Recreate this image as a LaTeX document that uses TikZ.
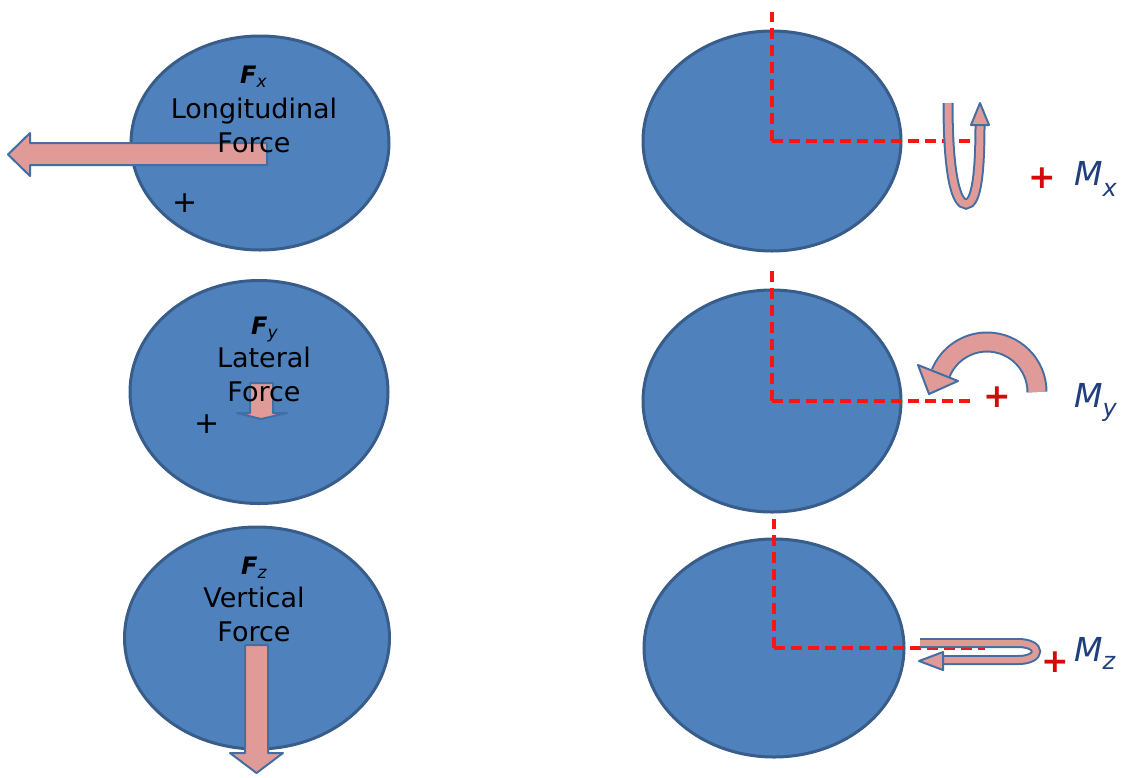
\documentclass[tikz,border=0pt]{standalone}
\usepackage{fontspec}
\setmainfont{DejaVu Sans}[ItalicFont={DejaVu Sans Oblique},BoldFont={DejaVu Sans Bold},BoldItalicFont={DejaVu Sans Bold Oblique}]
\usetikzlibrary{shapes.geometric,positioning}

\definecolor{wheelblue}{RGB}{79,129,189}
\definecolor{wheeledge}{RGB}{56,93,138}
\definecolor{forcepink}{RGB}{224,155,153}
\definecolor{axisred}{RGB}{250,20,20}
\definecolor{plusred}{RGB}{210,10,10}
\definecolor{momentblue}{RGB}{31,63,125}

\tikzset{
  wheel/.style={ellipse, draw=wheeledge, fill=wheelblue, line width=3pt, inner sep=0pt},
  axis/.style={draw=axisred, line width=3.2pt, dash pattern=on 11pt off 6pt},
  block/.style={fill=forcepink, draw=wheelblue!85!black, line width=2pt, line join=round},
  ribbon/.style={draw=wheelblue!85!black, line width=2pt, double=forcepink, double distance=#1},
  forcetext/.style={align=center, inner sep=0pt, font=\fontsize{27}{34}\selectfont},
  forcename/.style={anchor=base west, inner sep=0pt, font=\fontsize{24}{24}\selectfont\bfseries\itshape},
  momentname/.style={anchor=base west, inner sep=0pt, text=momentblue, font=\fontsize{33}{33}\selectfont\itshape},
  blackplus/.style={inner sep=0pt, font=\fontsize{30}{30}\selectfont},
  redplus/.style={inner sep=0pt, text=plusred, font=\fontsize{33}{33}\selectfont\bfseries}
}

\begin{document}
\begin{tikzpicture}[x=1pt,y=-1pt]
    \useasboundingbox (0,0) rectangle (1126,777);

    % Forces on the left
    \node[wheel, minimum width=258pt, minimum height=214pt] (fxwheel) at (260,143) {};
    \node[wheel, minimum width=258pt, minimum height=223pt] (fywheel) at (259,392) {};
    \node[wheel, minimum width=265pt, minimum height=222pt] (fzwheel) at (257,638) {};

    \filldraw[block] (267,143) -- (267,165) -- (30,165) -- (30,176) -- (8,154.5) -- (30,133) -- (30,143) -- cycle;
    \filldraw[block] (250,383) -- (273,383) -- (273,413) -- (287,413) -- (261,419) -- (237,413) -- (250,413) -- cycle;
    \filldraw[block] (245,645) -- (268,645) -- (268,753) -- (283,753) -- (256.5,773) -- (230,753) -- (245,753) -- cycle;

    \node[forcetext] (fxtext) at (254,125) {Longitudinal\\Force};
    \node[forcetext] (fytext) at (264,374) {Lateral\\Force};
    \node[forcetext] (fztext) at (254,614) {Vertical\\Force};
    \node[forcename] (fxname) at (240,83) {F\raisebox{-4pt}{\fontsize{17}{17}\selectfont\mdseries x}};
    \node[forcename] (fyname) at (251,334) {F\raisebox{-4pt}{\fontsize{17}{17}\selectfont\mdseries y}};
    \node[forcename] (fzname) at (241,574) {F\raisebox{-4pt}{\fontsize{17}{17}\selectfont\mdseries z}};
    \node[blackplus] (fxplus) at (185,203) {+};
    \node[blackplus] (fyplus) at (207,424) {+};

    % Moments on the right
    \node[wheel, minimum width=258pt, minimum height=220pt] (mxwheel) at (772,141) {};
    \node[wheel, minimum width=258pt, minimum height=222pt] (mywheel) at (772,401) {};
    \node[wheel, minimum width=260pt, minimum height=218pt] (mzwheel) at (774,648) {};

    \coordinate (mxtop) at (772,12);
    \coordinate (mxend) at (970,141);
    \coordinate (mytop) at (772,271);
    \coordinate (myend) at (975,401);
    \coordinate (mztop) at (774,519);
    \coordinate (mzend) at (985,648);
    \draw[axis] (mxwheel.center) -- (mxtop);
    \draw[axis] (mxwheel.center) -- (mxend);
    \draw[axis] (mywheel.center) -- (mytop);
    \draw[axis] (mywheel.center) -- (myend);
    \draw[axis] (mzwheel.center) -- (mztop);
    \draw[axis] (mzwheel.center) -- (mzend);

    \draw[ribbon=7pt] (948,103) .. controls (948,175) and (956,204) .. (966,204)
        .. controls (977,204) and (980,170) .. (980,124);
    \filldraw[block] (971,125) -- (989,125) -- (980,103) -- cycle;

    \draw[ribbon=17pt] (1037,392) arc[start angle=0, end angle=-158, radius=50];
    \filldraw[block] (958,381) -- (918,365) -- (929,394) -- cycle;

    \draw[ribbon=6pt] (920,643) -- (1018,643) .. controls (1042,643) and (1042,660) .. (1018,660) -- (943,660);
    \filldraw[block] (943,652) -- (943,670) -- (919,661) -- cycle;

    \node[redplus] (mxplus) at (1042,178) {+};
    \node[redplus] (myplus) at (997,397) {+};
    \node[redplus] (mzplus) at (1055,662) {+};
    \node[momentname] (mxname) at (1074,185) {M\raisebox{-11pt}{\fontsize{24}{24}\selectfont x}};
    \node[momentname] (myname) at (1074,407) {M\raisebox{-9pt}{\fontsize{24}{24}\selectfont y}};
    \node[momentname] (mzname) at (1074,661) {M\raisebox{-8pt}{\fontsize{24}{24}\selectfont z}};
\end{tikzpicture}
\end{document}
